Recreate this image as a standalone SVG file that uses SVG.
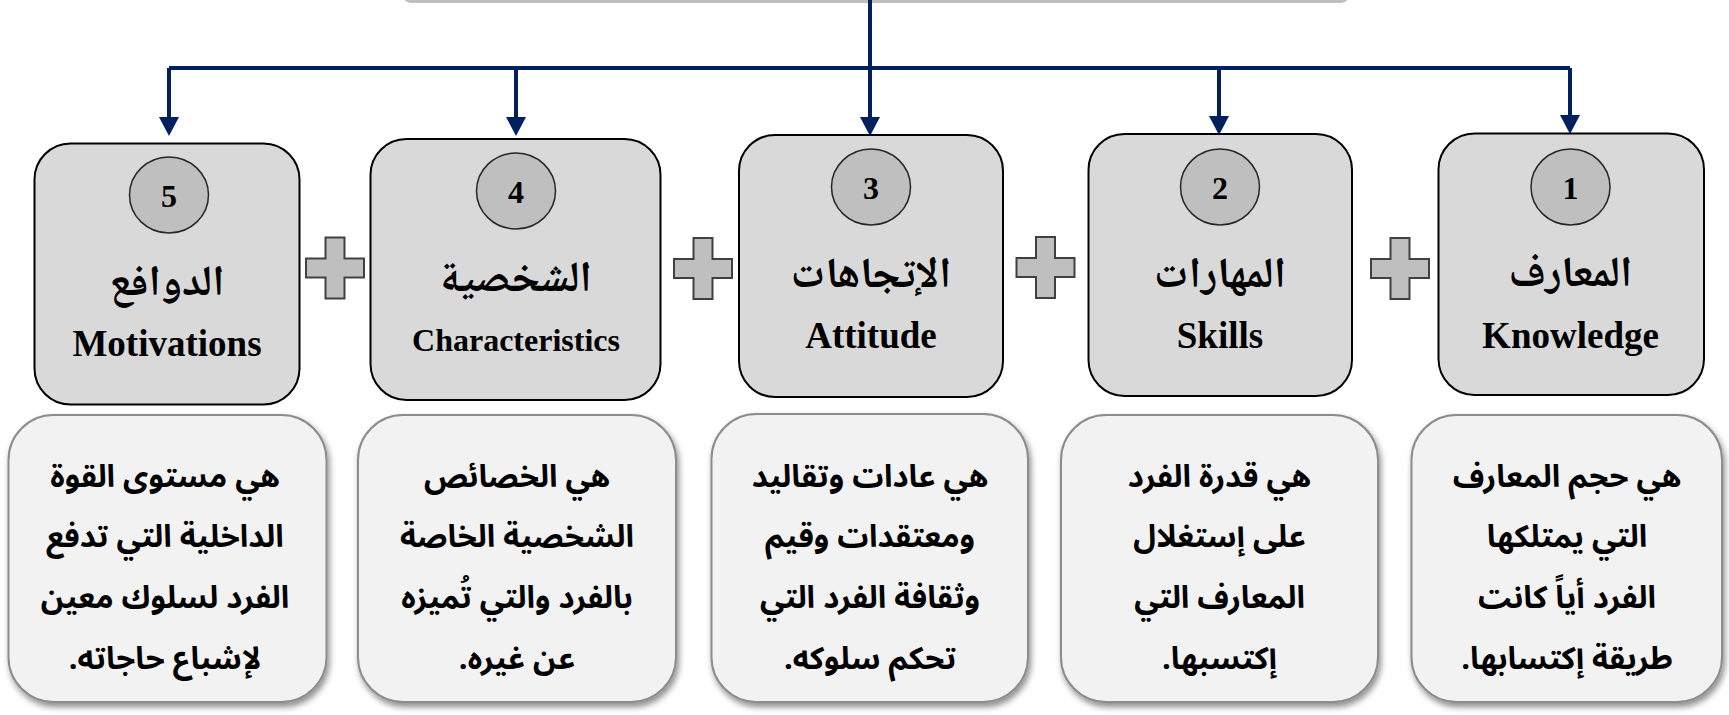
<svg xmlns="http://www.w3.org/2000/svg" xmlns:xlink="http://www.w3.org/1999/xlink" width="1729" height="715" viewBox="0 0 1729 715">
  <style>
    .node { fill: #d9d9d9; stroke: #000000; stroke-width: 2; }
    .badge { fill: #bfbfbf; stroke: #262626; stroke-width: 1.5; }
    .num { font-family: "Liberation Serif", "Times New Roman", serif; font-weight: bold; font-size: 32px; fill: #000; text-anchor: middle; }
    .ar-title { font-family: "Noto Naskh Arabic", "Noto Sans Arabic", "DejaVu Sans", serif; font-weight: bold; font-size: 43px; fill: #000; text-anchor: middle; direction: rtl; }
    .en-title { font-family: "Liberation Serif", "Times New Roman", serif; font-weight: bold; font-size: 37px; fill: #000; text-anchor: middle; }
    .desc { fill: #f2f2f2; stroke: #8c8c8c; stroke-width: 2; filter: url(#shadow); }
    .desc-text { font-family: "Noto Sans Arabic", "Noto Naskh Arabic", "DejaVu Sans", sans-serif; font-weight: bold; font-size: 31px; fill: #000; text-anchor: middle; direction: rtl; }
    .plus { fill: #bfbfbf; stroke: #404040; stroke-width: 2; }
    .conn { fill: none; stroke: #002060; stroke-width: 4; }
  </style>
  <defs>
    <marker id="arrow" markerUnits="userSpaceOnUse" markerWidth="20" markerHeight="20" refX="0" refY="10" orient="auto" viewBox="0 0 20 20">
      <path d="M0,0 L19,10 L0,20 Z" fill="#002060"/>
    </marker>
    <filter id="shadow" x="-10%" y="-10%" width="125%" height="125%">
      <feDropShadow dx="2" dy="4" stdDeviation="3" flood-color="#000" flood-opacity="0.45"/>
    </filter>
    <path id="plusShape" d="M-9.5,-30.5 H9.5 V-9.5 H29 V9.5 H9.5 V30.5 H-9.5 V9.5 H-29 V-9.5 H-9.5 Z"/>
  </defs>

  <!-- top (cut-off) box -->
  <g id="top-box">
    <rect x="402" y="-20" width="948" height="23" rx="9" fill="#bfbfbf"/>
  </g>

  <!-- connectors -->
  <g id="connectors">
    <path class="conn" d="M169,68 H1570"/>
    <path class="conn" d="M870,0 V117" stroke-width="5" marker-end="url(#arrow)"/>
    <path class="conn" d="M169,68 V117" stroke-width="5" marker-end="url(#arrow)"/>
    <path class="conn" d="M516,68 V117" stroke-width="5" marker-end="url(#arrow)"/>
    <path class="conn" d="M1219,68 V116" stroke-width="5" marker-end="url(#arrow)"/>
    <path class="conn" d="M1570,68 V115" stroke-width="5" marker-end="url(#arrow)"/>
  </g>

  <!-- plus signs -->
  <g id="plus-signs">
    <use xlink:href="#plusShape" class="plus" x="335" y="268"/>
    <use xlink:href="#plusShape" class="plus" x="703" y="268.5"/>
    <use xlink:href="#plusShape" class="plus" x="1045.5" y="267.5"/>
    <use xlink:href="#plusShape" class="plus" x="1400" y="268.5"/>
  </g>

  <!-- node 5 -->
  <g id="node-5">
    <rect class="node" x="34.5" y="143.5" width="265" height="261" rx="36"/>
    <ellipse class="badge" cx="169" cy="195" rx="39.5" ry="38"/>
    <text class="num" x="169" y="207">5</text>
    <text class="ar-title" x="167" y="295">الدوافع</text>
    <text class="en-title" x="167" y="356">Motivations</text>
  </g>

  <!-- node 4 -->
  <g id="node-4">
    <rect class="node" x="370.5" y="139" width="290" height="261" rx="36"/>
    <ellipse class="badge" cx="516" cy="191" rx="39.5" ry="38"/>
    <text class="num" x="516" y="203">4</text>
    <text class="ar-title" x="516" y="291">الشخصية</text>
    <text class="en-title" x="516" y="351" style="font-size:32px">Characteristics</text>
  </g>

  <!-- node 3 -->
  <g id="node-3">
    <rect class="node" x="739" y="135" width="264" height="262" rx="36"/>
    <ellipse class="badge" cx="871" cy="187" rx="39.5" ry="38"/>
    <text class="num" x="871" y="199">3</text>
    <text class="ar-title" x="871" y="287">الإتجاهات</text>
    <text class="en-title" x="871" y="348">Attitude</text>
  </g>

  <!-- node 2 -->
  <g id="node-2">
    <rect class="node" x="1088.5" y="134" width="263.5" height="262" rx="36"/>
    <ellipse class="badge" cx="1220" cy="187" rx="39.5" ry="38"/>
    <text class="num" x="1220" y="199">2</text>
    <text class="ar-title" x="1220" y="287">المهارات</text>
    <text class="en-title" x="1220" y="348">Skills</text>
  </g>

  <!-- node 1 -->
  <g id="node-1">
    <rect class="node" x="1438.5" y="133.5" width="265.5" height="261.5" rx="36"/>
    <ellipse class="badge" cx="1570.5" cy="187" rx="39.5" ry="38"/>
    <text class="num" x="1570.5" y="199">1</text>
    <text class="ar-title" x="1570.5" y="286">المعارف</text>
    <text class="en-title" x="1570.5" y="347.5">Knowledge</text>
  </g>

  <!-- description 5 -->
  <g id="desc-5">
    <rect class="desc" x="8.5" y="415" width="318" height="287" rx="45"/>
    <text class="desc-text" x="165" y="487">هي مستوى القوة</text>
    <text class="desc-text" x="165" y="547">الداخلية التي تدفع</text>
    <text class="desc-text" x="165" y="608">الفرد لسلوك معين</text>
    <text class="desc-text" x="165" y="669">لإشباع حاجاته.</text>
  </g>

  <!-- description 4 -->
  <g id="desc-4">
    <rect class="desc" x="358" y="415" width="318" height="287" rx="45"/>
    <text class="desc-text" x="517" y="487">هي الخصائص</text>
    <text class="desc-text" x="517" y="547">الشخصية الخاصة</text>
    <text class="desc-text" x="517" y="608">بالفرد والتي تُميزه</text>
    <text class="desc-text" x="517" y="669">عن غيره.</text>
  </g>

  <!-- description 3 -->
  <g id="desc-3">
    <rect class="desc" x="711.5" y="414" width="316.5" height="288" rx="45"/>
    <text class="desc-text" x="870" y="487">هي عادات وتقاليد</text>
    <text class="desc-text" x="870" y="547">ومعتقدات وقيم</text>
    <text class="desc-text" x="870" y="608">وثقافة الفرد التي</text>
    <text class="desc-text" x="870" y="669">تحكم سلوكه.</text>
  </g>

  <!-- description 2 -->
  <g id="desc-2">
    <rect class="desc" x="1061" y="415" width="317" height="287" rx="45"/>
    <text class="desc-text" x="1219.5" y="487">هي قدرة الفرد</text>
    <text class="desc-text" x="1219.5" y="547">على إستغلال</text>
    <text class="desc-text" x="1219.5" y="608">المعارف التي</text>
    <text class="desc-text" x="1219.5" y="669">إكتسبها.</text>
  </g>

  <!-- description 1 -->
  <g id="desc-1">
    <rect class="desc" x="1411.5" y="415" width="310.5" height="287" rx="45"/>
    <text class="desc-text" x="1567" y="487">هي حجم المعارف</text>
    <text class="desc-text" x="1567" y="547">التي يمتلكها</text>
    <text class="desc-text" x="1567" y="608">الفرد أياً كانت</text>
    <text class="desc-text" x="1567" y="669">طريقة إكتسابها.</text>
  </g>
</svg>
